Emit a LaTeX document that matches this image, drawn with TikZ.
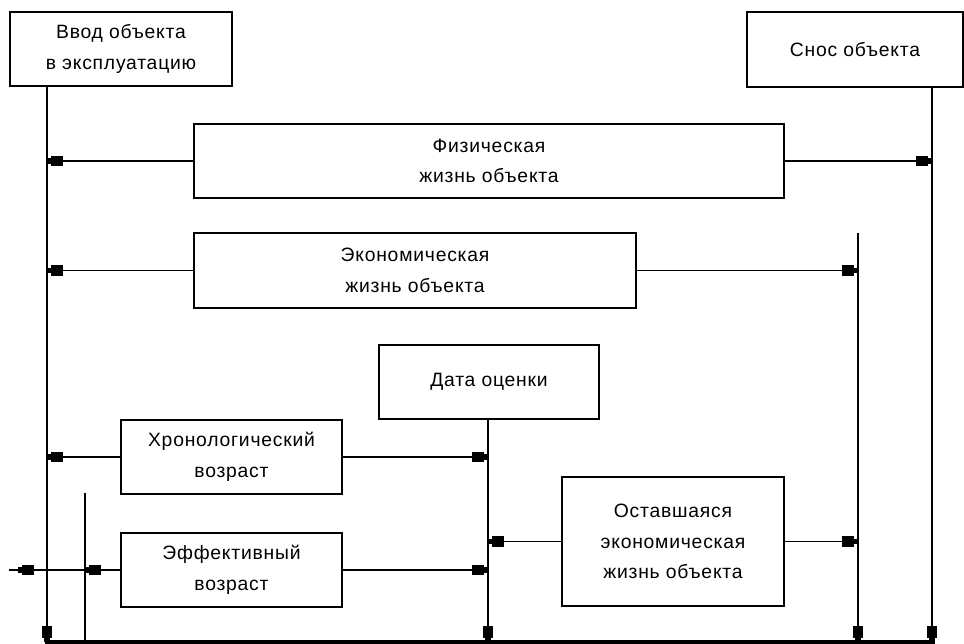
\documentclass[tikz,border=0pt]{standalone}
\usepackage{fontspec}
\setmainfont[LetterSpace=4]{Liberation Sans}
\usetikzlibrary{arrows.meta}

\begin{document}
\begin{tikzpicture}[x=0.02cm,y=-0.02cm,
  box/.style={draw,line width=0.9pt,inner sep=0pt,outer sep=0pt,align=center,
    minimum height=1.48cm,font=\fontsize{11}{17.5}\selectfont},
  arr/.style={-{Square[length=6.5pt,width=6pt]Square[length=2.5pt,width=3pt]},line width=0.8pt},
  ln/.style={line width=0.8pt},
  base/.style={line width=1.8pt}]
\useasboundingbox (0,0) rectangle (964,644);

% Events
\node[box,minimum width=4.44cm] (vvod) at (121,49) {Ввод объекта\\в эксплуатацию};
\node[box,minimum width=4.32cm,minimum height=1.5cm] (snos) at (855,49.5) {Снос объекта};
\node[box,minimum width=4.4cm] (data) at (489,382) {Дата оценки};

% Time axis
\coordinate (b0) at (47,642);
\coordinate (bE) at (85,642);
\coordinate (bD) at (488,642);
\coordinate (bR) at (858,642);
\coordinate (bS) at (932,642);
\coordinate (effTop) at (85,493);
\coordinate (ecoTop) at (858,233);
\draw[base] (45,642) -- (935,642);

\draw[arr] (vvod.south -| b0) -- (b0);
\draw[arr] (snos.south -| bS) -- (bS);
\draw[arr] (data.south -| bD) -- (bD);
\draw[arr] (ecoTop) -- (bR);
\draw[ln] (effTop) -- (bE);

% Physical life
\node[box,minimum width=11.8cm] (fiz) at (489,161) {Физическая\\жизнь объекта};
\draw[arr] (fiz.west) -- (fiz.west -| b0);
\draw[arr] (fiz.east) -- (fiz.east -| bS);

% Economic life
\node[box,minimum width=8.84cm,minimum height=1.5cm] (eko) at (415,270.5) {Экономическая\\жизнь объекта};
\draw[arr] (eko.west) -- (eko.west -| b0);
\draw[arr] (eko.east) -- (eko.east -| bR);

% Chronological age
\node[box,minimum width=4.42cm] (hron) at (231.5,457) {Хронологический\\возраст};
\draw[arr] (hron.west) -- (hron.west -| b0);
\draw[arr] (hron.east) -- (hron.east -| bD);

% Remaining economic life
\node[box,minimum width=4.44cm,minimum height=2.58cm] (ost) at (673,541.5) {Оставшаяся\\экономическая\\жизнь объекта};
\draw[arr] (ost.west) -- (ost.west -| bD);
\draw[arr] (ost.east) -- (ost.east -| bR);

% Effective age
\node[box,minimum width=4.42cm] (eff) at (231.5,570) {Эффективный\\возраст};
\coordinate (effTip) at (18,570);
\coordinate (effEnd) at (9,570);
\draw[arr] (eff.west) -- (eff.west -| bE);
\draw[arr] (eff.west -| bE) -- (effTip);
\draw[ln] (effTip) -- (effEnd);
\draw[arr] (eff.east) -- (eff.east -| bD);

\end{tikzpicture}
\end{document}
